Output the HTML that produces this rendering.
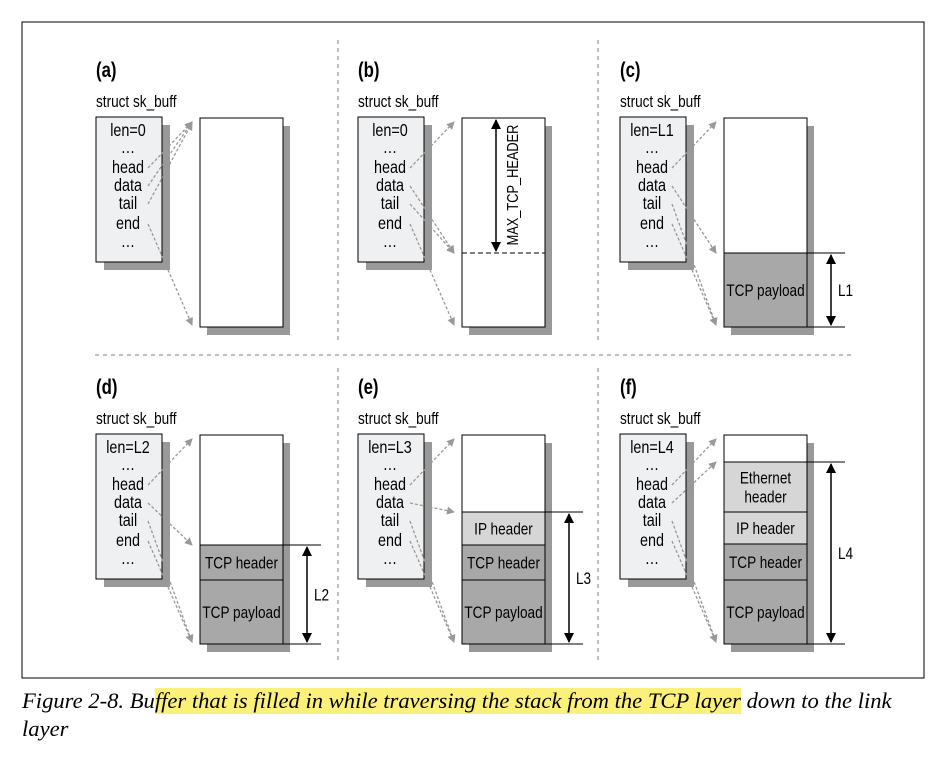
<!DOCTYPE html>
<html><head><meta charset="utf-8"><style>
body{margin:0;background:#fff;width:946px;height:768px;overflow:hidden}
svg text{font-family:"Liberation Sans",sans-serif}
</style></head><body>
<svg id="s" width="946" height="768">
<defs><marker id="ah" markerWidth="8" markerHeight="8" refX="7" refY="4" orient="auto" markerUnits="userSpaceOnUse"><path d="M0,0L8,4L0,8z" fill="#999"/></marker>
<marker id="bh" markerWidth="10" markerHeight="12" refX="9" refY="5" orient="auto" markerUnits="userSpaceOnUse"><path d="M0,0L10,5L0,10z" fill="#000"/></marker></defs>
<rect x="22" y="22" width="902" height="656" fill="none" stroke="#000" stroke-width="1"/>
<g stroke="#aaa" stroke-dasharray="4,4" stroke-width="1.5">
<line x1="338" y1="40" x2="338" y2="342"/><line x1="338" y1="368" x2="338" y2="662"/>
<line x1="598" y1="40" x2="598" y2="342"/><line x1="598" y1="368" x2="598" y2="662"/>
<line x1="95" y1="355" x2="852" y2="355"/>
</g>
<rect id="hl" x="150" y="688" width="589" height="26" fill="#fbf07a"/>
<text id="cap" x="22" y="708" font-size="22.6" font-style="italic" style="font-family:'Liberation Serif',serif"><tspan id="c1">Figure 2-8. Bu</tspan><tspan id="c2">ffer that is filled in while traversing the stack from the TCP layer</tspan><tspan> down to the link</tspan></text>
<text x="22" y="736" font-size="22.6" font-style="italic" style="font-family:'Liberation Serif',serif">layer</text>
</svg>
<script>
const panelLabels=['(a)','(b)','(c)','(d)','(e)','(f)'];
const lens=['len=0','len=0','len=L1','len=L2','len=L3','len=L4'];
const dims=['','','L1','L2','L3','L4'];
// segments: [label, absolute top y, fill]
const segs=[[],[],[['TCP payload',253,'#a8a8a8']],
[['TCP header',545,'#a8a8a8'],['TCP payload',580,'#a8a8a8']],
[['IP header',512,'#d6d6d6'],['TCP header',545,'#a8a8a8'],['TCP payload',580,'#a8a8a8']],
[['Ethernet|header',462,'#d6d6d6'],['IP header',512,'#d6d6d6'],['TCP header',544,'#a8a8a8'],['TCP payload',580,'#a8a8a8']]];
const s=document.getElementById('s');const NS='http://www.w3.org/2000/svg';
function el(t,a,p){const e=document.createElementNS(NS,t);for(const k in a)e.setAttribute(k,a[k]);(p||s).appendChild(e);return e;}
function txt(str,x,y,size,anchor,p,bold){const t=el('text',{x:0,y:0,'font-size':size,'text-anchor':anchor||'start',transform:`translate(${x},${y}) scale(0.8,1)`},p);if(bold)t.setAttribute('font-weight','bold');t.textContent=str;return t;}
for(let i=0;i<6;i++){
 const ox=96+(i%3)*262, oy=(i<3?0:317);
 const g=el('g',{});
 
 
 txt(panelLabels[i],ox,oy+77,21,'start',g,true);
 txt('struct sk_buff',ox,oy+107,17,'start',g);
 el('rect',{x:ox+8,y:oy+125,width:66,height:145,fill:'#999'},g);
 el('rect',{x:ox,y:oy+117,width:66,height:145,fill:'#eef0f2',stroke:'#000'},g);
 const fields=[lens[i],'…','head','data','tail','end','…'],fy=[136,153,173,191,209,229,247];
 fields.forEach((f,k)=>txt(f,ox+32,oy+fy[k],18,'middle',g));
 const bx=ox+104,by=oy+118,bw=83,bh=209;
 el('rect',{x:bx+7,y:by+8,width:bw,height:bh,fill:'#999'},g);
 el('rect',{x:bx,y:by,width:bw,height:bh,fill:'#fff'},g);
 const sg=segs[i];
 sg.forEach((sgm,k)=>{const top=sgm[1],bot=k+1<sg.length?sg[k+1][1]:by+bh;
  el('rect',{x:bx,y:top,width:bw,height:bot-top,fill:sgm[2],stroke:'#000'},g);
  const lines=sgm[0].split('|');lines.forEach((l,j)=>txt(l,bx+bw/2,(top+bot)/2+6+(j-(lines.length-1)/2)*19,17,'middle',g));});
 el('rect',{x:bx,y:by,width:bw,height:bh,fill:'none',stroke:'#000'},g);
 let dataY=sg.length?sg[0][1]:(i==1?253:by+5);
 let tailY=i==0?by+5:(i==1?253:by+bh-2);
 const tg=[by+4,i==0?by+4:dataY,tailY,by+bh-2];
 [173,191,209,229].forEach((fy2,k)=>el('line',{x1:ox+52,y1:oy+fy2-5,x2:bx-8,y2:tg[k],stroke:'#999','stroke-dasharray':'3,2','stroke-width':1.3,'marker-end':'url(#ah)'},g));
 if(i==1) el('line',{x1:bx,y1:253,x2:bx+bw,y2:253,stroke:'#000','stroke-dasharray':'5,3'},g);
 if(dims[i]){const top=sg[0][1],bot=by+bh,ax=bx+bw+24;
  el('line',{x1:bx+bw,y1:top,x2:ax+14,y2:top,stroke:'#000'},g);el('line',{x1:bx+bw,y1:bot,x2:ax+14,y2:bot,stroke:'#000'},g);
  el('line',{x1:ax,y1:(top+bot)/2,x2:ax,y2:top+2,stroke:'#000','stroke-width':1.5,'marker-end':'url(#bh)'},g);
  el('line',{x1:ax,y1:(top+bot)/2,x2:ax,y2:bot-2,stroke:'#000','stroke-width':1.5,'marker-end':'url(#bh)'},g);
  txt(dims[i],ax+7,(top+bot)/2+6,17,'start',g);}
 if(i==1){const ax=bx+34;el('line',{x1:ax,y1:185,x2:ax,y2:120,stroke:'#000','stroke-width':1.5,'marker-end':'url(#bh)'},g);
  el('line',{x1:ax,y1:185,x2:ax,y2:251,stroke:'#000','stroke-width':1.5,'marker-end':'url(#bh)'},g);
  const tt=el('text',{x:0,y:0,'font-size':16,'text-anchor':'middle',transform:`translate(${ax+22},185) rotate(-90) scale(0.8,1)`},g);tt.textContent='MAX_TCP_HEADER';}
}
try{const c1=document.getElementById('c1').getComputedTextLength(),c2=document.getElementById('c2').getComputedTextLength();
const hl=document.getElementById('hl');hl.setAttribute('x',22+c1);hl.setAttribute('width',c2);}catch(e){}
</script>
</body></html>
